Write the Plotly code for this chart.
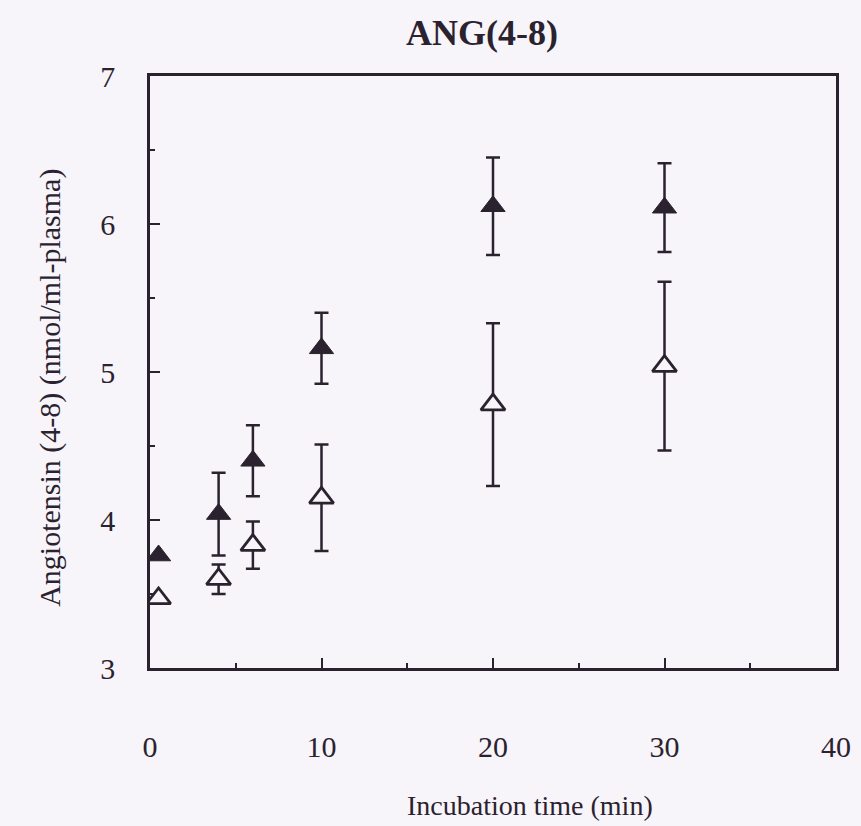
import plotly.graph_objects as go

# Incubation times (min)
time_min = [0.5, 4, 6, 10, 20, 30]

# Filled triangles: Angiotensin (4-8) level and error
filled_mean = [3.76, 4.04, 4.40, 5.16, 6.12, 6.11]
filled_err = [0.0, 0.28, 0.24, 0.24, 0.33, 0.30]

# Open triangles: Angiotensin (4-8) level and error
open_mean = [3.47, 3.60, 3.83, 4.15, 4.78, 5.04]
open_err = [0.0, 0.10, 0.16, 0.36, 0.55, 0.57]

x_ticks = [0, 10, 20, 30, 40]
y_ticks = [3, 4, 5, 6, 7]

INK = "#2b2230"
PAPER = "#f7f5f9"
FONT = "Liberation Serif"

fig = go.Figure()

fig.add_trace(go.Scatter(
    x=time_min, y=open_mean, mode="markers",
    error_y=dict(type="data", array=open_err, visible=True,
                 color=INK, thickness=2.5, width=7),
    marker=dict(symbol="triangle-up", size=21, color=PAPER,
                line=dict(color=INK, width=2.8)),
    showlegend=False,
))

fig.add_trace(go.Scatter(
    x=time_min, y=filled_mean, mode="markers",
    error_y=dict(type="data", array=filled_err, visible=True,
                 color=INK, thickness=2.5, width=7),
    marker=dict(symbol="triangle-up", size=21, color=INK,
                line=dict(color=INK, width=1)),
    showlegend=False,
))

axis_common = dict(
    ticks="inside", ticklen=10, tickwidth=2, tickcolor=INK,
    showline=True, linecolor=INK, linewidth=2.5, mirror=True,
    showgrid=False, zeroline=False, automargin=False,
    tickfont=dict(size=30, family=FONT, color=INK),
)

fig.update_layout(
    width=861, height=826,
    margin=dict(l=150, r=25, t=76, b=158),
    paper_bgcolor=PAPER, plot_bgcolor=PAPER,
    font=dict(family=FONT, color=INK),
    title=dict(text="<b>ANG(4-8)</b>", x=0.484, xanchor="center", xref="paper",
               y=0.961, yanchor="middle", font=dict(size=36, family=FONT, color=INK)),
    xaxis=dict(
        range=[0, 40], tickvals=x_ticks, ticktext=[str(v) for v in x_ticks],
        minor=dict(dtick=5, ticks="inside", ticklen=5, tickwidth=2, tickcolor=INK),
        ticklabelstandoff=50,
        **axis_common,
    ),
    yaxis=dict(
        range=[3, 7], tickvals=y_ticks, ticktext=[str(v) for v in y_ticks],
        minor=dict(dtick=0.5, ticks="inside", ticklen=5, tickwidth=2, tickcolor=INK),
        ticklabelstandoff=26,
        **axis_common,
    ),
    annotations=[
        dict(text="Incubation time (min)", xref="paper", yref="paper",
             x=0.554, y=-0.233, xanchor="center", yanchor="middle",
             showarrow=False, font=dict(size=28, family=FONT, color=INK)),
        dict(text="Angiotensin (4-8) (nmol/ml-plasma)", xref="paper", yref="paper",
             x=-0.146, y=0.473, xanchor="center", yanchor="middle", textangle=-90,
             showarrow=False, font=dict(size=30, family=FONT, color=INK)),
    ],
)

fig.write_html("out.html")
